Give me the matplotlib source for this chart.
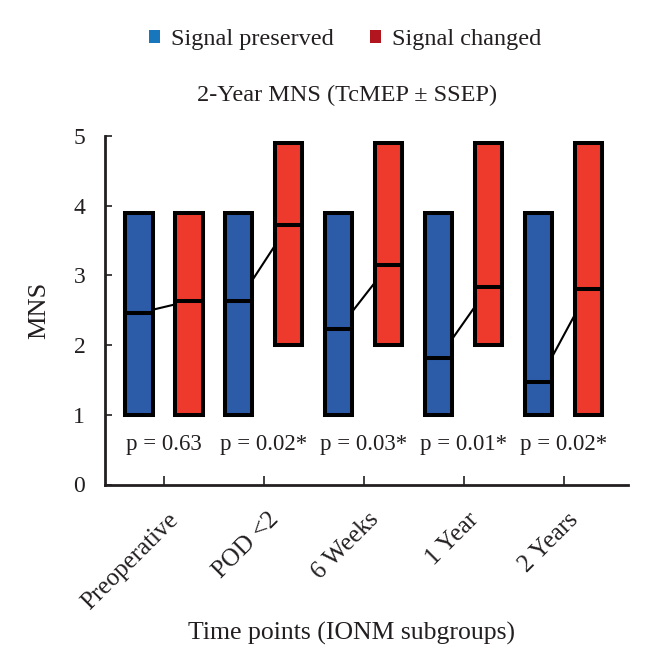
import matplotlib
matplotlib.use("Agg")
import matplotlib.pyplot as plt
import matplotlib.transforms as mtransforms
from matplotlib.patches import Patch
import numpy as np

plt.rcParams['font.family'] = ['Liberation Serif', 'DejaVu Serif']
TXT = '#231F20'
plt.rcParams['text.color'] = TXT

categories = ['Preoperative', 'POD <2', '6 Weeks', '1 Year', '2 Years']
preserved_low = [1, 1, 1, 1, 1]
preserved_high = [3.9, 3.9, 3.9, 3.9, 3.9]
preserved_median = [2.46, 2.63, 2.23, 1.81, 1.47]
changed_low = [1, 2, 2, 2, 1]
changed_high = [3.9, 4.9, 4.9, 4.9, 4.9]
changed_median = [2.63, 3.73, 3.15, 2.83, 2.80]
p_labels = ['p = 0.63', 'p = 0.02*', 'p = 0.03*', 'p = 0.01*', 'p = 0.02*']
series_names = ['Signal preserved', 'Signal changed']
legend_colors = ['#1776BC', '#B3151E']
box_colors = ['#2C5BA8', '#EE3A2C']

fig = plt.figure(figsize=(6.53, 6.65), dpi=100)
ax = fig.add_axes([104.7/653, 1-484.5/665, (628-104.7)/653, (484.5-136)/665])

n = len(categories)
xb = np.arange(n) * 2.0
xr = xb + 1.0
w = 0.554
lw = 2.9

for i in range(n):
    ax.plot([xb[i], xr[i]], [preserved_median[i], changed_median[i]],
            color='black', lw=1.5, zorder=1, solid_capstyle='butt')

for xs, lo, hi, med, col in [(xb, preserved_low, preserved_high, preserved_median, box_colors[0]),
                             (xr, changed_low, changed_high, changed_median, box_colors[1])]:
    lo = np.array(lo); hi = np.array(hi)
    bars = ax.bar(xs, hi - lo, bottom=lo, width=w, color=col, edgecolor='black',
                  linewidth=lw, zorder=2, clip_on=False)
    for b in bars:
        b.set_joinstyle('miter')
    ax.hlines(med, xs - w/2, xs + w/2, color='black', lw=lw, zorder=3)

for i in range(n):
    ax.text((xb[i] + xr[i]) / 2, 0.57, p_labels[i], ha='center', va='center', fontsize=16.5)

ax.set_xlim(-0.68, 9.79)
ax.set_ylim(0, 5)
ax.set_yticks(range(6))
ax.set_xticks((xb + xr) / 2)
ax.set_xticklabels([])
for s in ['top', 'right']:
    ax.spines[s].set_visible(False)
for s in ['left', 'bottom']:
    ax.spines[s].set_linewidth(2)
    ax.spines[s].set_color(TXT)
ax.tick_params(axis='y', direction='in', length=5, width=1.2, pad=14, labelsize=17, colors=TXT)
ax.tick_params(axis='x', direction='in', length=6.5, width=1.2, colors=TXT)

off = mtransforms.ScaledTranslation(4/100, -24/100, fig.dpi_scale_trans)
for x, lab in zip((xb + xr) / 2, categories):
    ax.text(x, 0, lab, rotation=45, rotation_mode='anchor', ha='right', va='top',
            fontsize=18, transform=ax.get_xaxis_transform() + off)

fig.text(39.5/653, 1-310/665, 'MNS', rotation=90, ha='center', va='center', fontsize=19)

fig.text(351/653, 1-633/665, 'Time points (IONM subgroups)', ha='center', va='center', fontsize=18.5)
fig.text(347/653, 1-95/665, '2-Year MNS (TcMEP ± SSEP)', ha='center', va='center', fontsize=17.5)

handles = [Patch(facecolor=c, edgecolor='none') for c in legend_colors]
fig.legend(handles, series_names, loc='center', bbox_to_anchor=(345/653, 1-40/665), ncol=2,
           frameon=False, fontsize=17.5, handlelength=0.45, handleheight=0.45,
           handletextpad=0.45, columnspacing=1.5, borderpad=0)

fig.savefig('out.png', dpi=100)
